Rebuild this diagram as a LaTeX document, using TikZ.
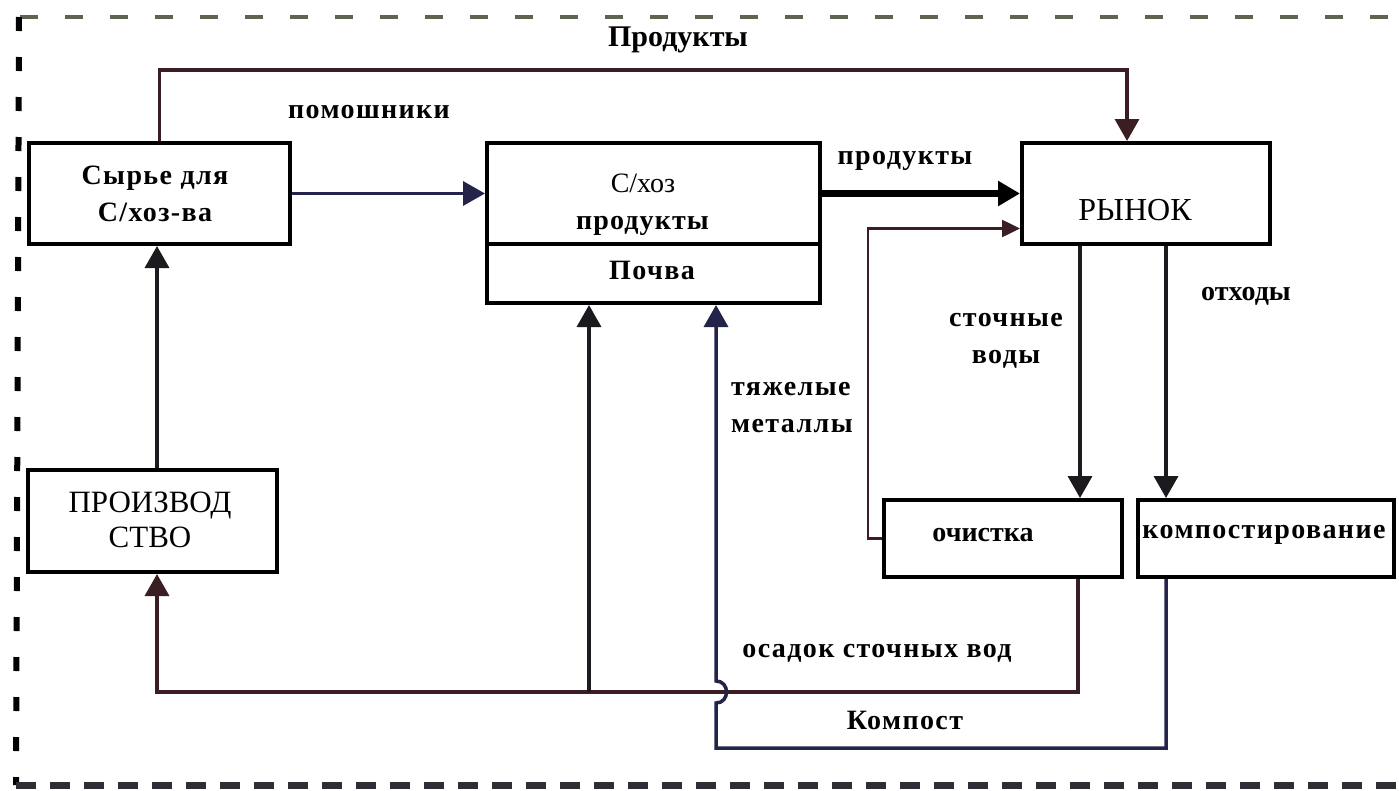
\documentclass[tikz,border=0pt]{standalone}
\usepackage{fontspec}
\setmainfont{Liberation Serif}
\usetikzlibrary{arrows.meta,calc}
\definecolor{linec}{HTML}{1C1A1E}
\definecolor{topdash}{HTML}{5E6452}
\definecolor{botdash}{HTML}{2E2E36}
\definecolor{redline}{HTML}{3A1E24}
\definecolor{blueline}{HTML}{24244A}
\begin{document}
\begin{tikzpicture}[x=1pt,y=-1pt,
  box/.style={draw=black,line width=4pt,rectangle,inner sep=0pt,fill=white},
  lbl/.style={font=\fontsize{28}{37}\selectfont\bfseries,inner sep=0pt,align=center},
  lbls/.style={font=\fontsize{28}{37}\selectfont\bfseries\addfontfeature{LetterSpace=5},inner sep=0pt,align=center},
  lblr/.style={font=\fontsize{28}{37}\selectfont,inner sep=0pt,align=center},
  conn/.style={line width=3.5pt,draw=linec},
  arr/.style={-{Triangle[length=22pt,width=24pt]}},
  arrs/.style={-{Triangle[length=18pt,width=17pt]}},
]
\useasboundingbox (0,0) rectangle (1399,790);
\fill[white] (0,0) rectangle (1399,790);

% dashed frame
\draw[line width=4pt, topdash, dash pattern=on 18pt off 27pt] (20,17) -- (1399,17);
\draw[line width=6pt, black, dash pattern=on 14pt off 26pt] (19,17) -- (16,785);
\draw[line width=7pt, botdash, dash pattern=on 20pt off 14pt] (16,785) -- (1399,785);

% boxes
\node[box, minimum width=261pt, minimum height=101pt] (raw) at (159.5,193.5) {};
\node[box, minimum width=333pt, minimum height=101pt] (agr) at (653.5,193.5) {};
\node[box, minimum width=333pt, minimum height=59pt] (soil) at (653.5,273.5) {};
\node[box, minimum width=248pt, minimum height=101pt] (market) at (1146,193.5) {};
\node[box, minimum width=249pt, minimum height=102pt] (prod) at (152.5,521) {};
\node[box, minimum width=238pt, minimum height=77pt] (clean) at (1003,538.5) {};
\node[box, minimum width=256pt, minimum height=77pt] (comp) at (1266,538.5) {};

% box texts
\node[lbls] (traw) at (155,193.5) {Сырье для\\С/хоз-ва};
\node[lblr] (tagr) at (643,204.5) {С/хоз\\\textbf{\addfontfeature{LetterSpace=4}продукты}};
\node[lbls] (tsoil) at (652,270) {Почва};
\node[lblr, font=\fontsize{32}{38}\selectfont] (tmarket) at (1135,210) {РЫНОК};
\node[lblr, font=\fontsize{31}{35}\selectfont] (tprod) at (150,520) {ПРОИЗВОД\\СТВО};
\node[lbl] (tclean) at (983,535) {очистка};
\node[lbls] (tcomp) at (1264,535) {компостирование};

% connector labels
\node[lbl, font=\fontsize{30}{36}\selectfont\bfseries] (lprod) at (678,40) {Продукты};
\node[lbls] (lhelp) at (369,112) {помошники};
\node[lbls] (lprod2) at (905,161) {продукты};
\node[lbl] (lwaste) at (1246,296) {отходы};
\node[lbls] (lsew) at (1006,341) {сточные\\воды};
\node[lbls, align=left, anchor=west] (lmetal) at (731,408) {тяжелые\\металлы};
\node[lbls] (lsludge) at (877,653) {осадок сточных вод};
\node[lbls] (lcompost) at (905,720) {Компост};

% connectors
\coordinate (mtopin) at ($(market.north)+(-19,0)$);
\draw[conn, redline, arr] (raw.north) |- ($(mtopin)+(0,-71)$) -- (mtopin);
\draw[conn, blueline, arr] (raw.east) -- (agr.west);
\draw[line width=7pt, black, arr] (agr.east) -- (market.west);
\draw[line width=2.5pt, redline, arrs] (clean.west) -- ++(-14,0) |- ($(market.west)+(0,35)$);
\draw[conn, arr] (market.south -| 1080,0) -- (clean.north -| 1080,0);
\draw[conn, arr] (market.south -| 1166,0) -- (comp.north -| 1166,0);
\draw[conn, arr] (prod.north -| 157,0) -- (raw.south -| 157,0);

\coordinate (jn) at (589,692);
\draw[conn, redline, arr] (clean.south -| 1078,0) |- (157,692) -- (prod.south -| 157,0);
\draw[conn, arr] (jn) -- (soil.south -| 589,0);
\draw[conn, blueline, arr] (comp.south -| 1166,0) |- (716,748) -- (716,703)
   .. controls (730,703) and (730,681) .. (716,681) -- (soil.south -| 716,0);
\end{tikzpicture}
\end{document}
